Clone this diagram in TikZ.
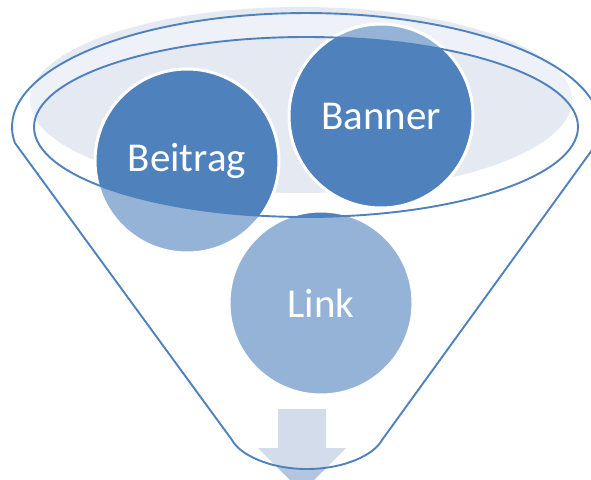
\documentclass[tikz,border=0pt]{standalone}
\usepackage{fontspec}
\setmainfont{Carlito}
\usetikzlibrary{shapes}
\definecolor{funnelblue}{HTML}{4F81BD}
\definecolor{rimfill}{HTML}{E4E9F2}
\definecolor{arrowfill}{HTML}{B4C5DF}
\tikzset{
  bubble/.style={circle, fill=funnelblue, draw=white, line width=3pt,
    minimum size=184pt, inner sep=0pt, text=white,
    font=\fontsize{41}{49}\selectfont},
  rim/.style={draw=funnelblue, line width=1.9pt},
  veil/.style={fill=white, fill opacity=.4, even odd rule}
}
\newcommand\funnelbody{%
  (14.9,142.9) arc[start angle=172, end angle=368, x radius=294, y radius=114]
  -- (382,440) .. controls (374,455) and (344,469) .. (307,469)
  .. controls (270,469) and (240,455) .. (232,440) -- cycle
}

\begin{document}
\begin{tikzpicture}[x=1pt,y=-1pt]
\useasboundingbox (0,0) rectangle (591,479);
\clip (0,0) rectangle (591,479);
% light top
\fill[rimfill] (301,100) ellipse [x radius=271, y radius=93];
% arrow
\fill[arrowfill] (278,409) -- (326,409) -- (326,448) -- (346,448)
  -- (302,492) -- (258,448) -- (278,448) -- cycle;
% circles
\node[bubble] (beitrag) at (187,161) {Beitrag};
\node[bubble] (banner) at (381,116) {Banner};
\node[bubble] (link) at (321,303) {Link};
%
% funnel with opening
\filldraw[rim, veil] \funnelbody
  (306,127) ellipse [x radius=272, y radius=90];
\end{tikzpicture}
\end{document}
